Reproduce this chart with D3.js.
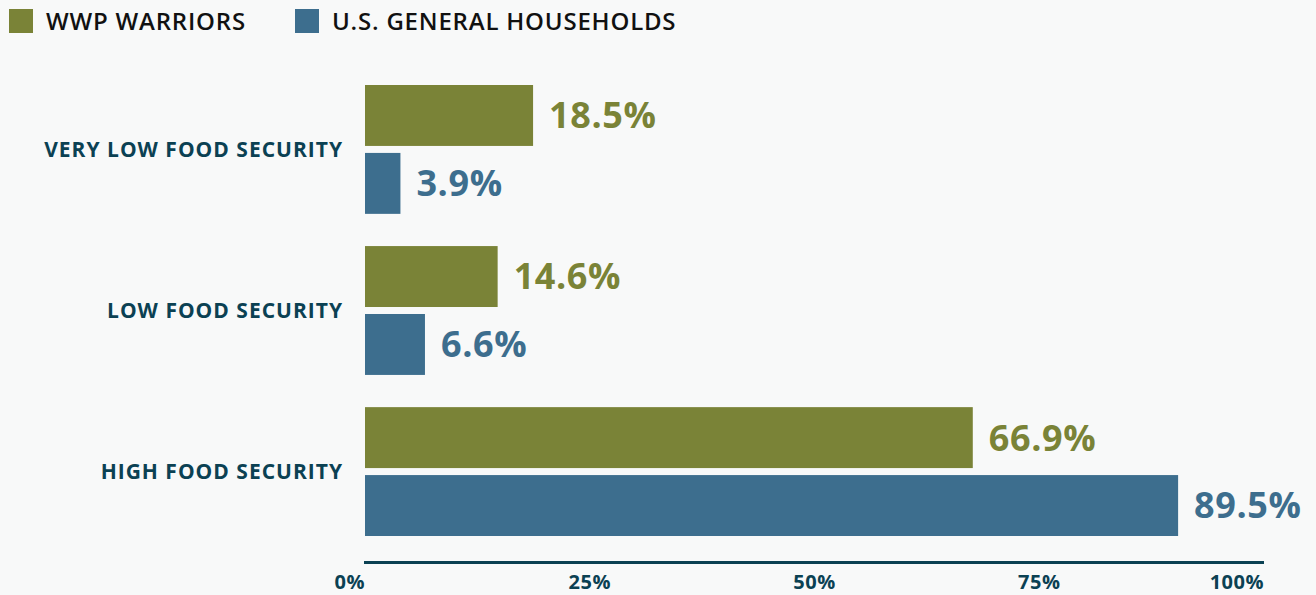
<!DOCTYPE html>
<html>
<head>
<meta charset="utf-8">
<script src="https://cdn.jsdelivr.net/npm/d3@7"></script>
<style>
  html, body { margin: 0; padding: 0; background: #f8f9f9; }
  svg { display: block; }
  text { font-family: "Open Sans", "DejaVu Sans", sans-serif; }
</style>
</head>
<body>
<svg id="chart" width="1316" height="595"></svg>
<script>
const categories = ["VERY LOW FOOD SECURITY", "LOW FOOD SECURITY", "HIGH FOOD SECURITY"];
const seriesNames = ["WWP WARRIORS", "U.S. GENERAL HOUSEHOLDS"];
const warriors = [18.5, 14.6, 66.9];
const households = [3.9, 6.6, 89.5];
const tickValues = [0, 25, 50, 75, 100];
const tickLabels = ["0%", "25%", "50%", "75%", "100%"];

const colors = ["#7a8337", "#3d6e8e"];
const dark = "#0b4153";

const svg = d3.select("#chart");
const W = 1316, H = 595;
svg.append("rect").attr("width", W).attr("height", H).attr("fill", "#f8f9f9");

const left = 365, axisRight = 1264;
const x = d3.scaleLinear().domain([0, 100]).range([left, left + 908.5]);
const xAxisScale = d3.scaleLinear().domain([0, 100]).range([left, axisRight]);

const y = d3.scaleBand().domain(categories).range([85, 536]).paddingInner(0.2).paddingOuter(0);
const ySub = d3.scaleBand().domain(seriesNames).range([0, y.bandwidth()]).paddingInner(7 / 68);

const rows = categories.map((c, i) => ({ cat: c, vals: [warriors[i], households[i]] }));

// Legend
const legend = svg.append("g");
const legendX = [9, 295];
seriesNames.forEach((s, i) => {
  legend.append("rect").attr("x", legendX[i]).attr("y", 9).attr("width", 24).attr("height", 24).attr("fill", colors[i]);
  legend.append("text").attr("x", legendX[i] + 37).attr("y", 30)
    .attr("font-size", 24).attr("font-weight", 600).attr("fill", "#111")
    .attr("letter-spacing", 0.8)
    .text(s);
});

// Bars
const groups = svg.selectAll("g.grp").data(rows).join("g").attr("class", "grp")
  .attr("transform", d => `translate(0,${y(d.cat)})`);

groups.selectAll("rect").data(d => d.vals.map((v, j) => ({ v, s: seriesNames[j], j })))
  .join("rect")
  .attr("x", x(0))
  .attr("y", d => ySub(d.s))
  .attr("width", d => x(d.v) - x(0))
  .attr("height", ySub.bandwidth())
  .attr("fill", d => colors[d.j]);

groups.selectAll("text.val").data(d => d.vals.map((v, j) => ({ v, s: seriesNames[j], j })))
  .join("text").attr("class", "val")
  .attr("x", d => x(d.v) + 16)
  .attr("y", d => ySub(d.s) + ySub.bandwidth() / 2)
  .attr("dy", "0.36em")
  .attr("font-size", 36).attr("font-weight", 700)
  .attr("letter-spacing", 0.6)
  .attr("fill", d => colors[d.j])
  .text(d => d.v.toFixed(1) + "%");

// Category labels
svg.selectAll("text.cat").data(categories).join("text").attr("class", "cat")
  .attr("x", 343)
  .attr("y", d => y(d) + y.bandwidth() / 2)
  .attr("dy", "0.36em")
  .attr("text-anchor", "end")
  .attr("font-size", 21).attr("font-weight", 700)
  .attr("letter-spacing", 1)
  .attr("fill", dark)
  .text(d => d);

// Axis
const axisG = svg.append("g").attr("transform", "translate(0,562.5)");
axisG.append("line").attr("x1", xAxisScale(0) - 1).attr("x2", xAxisScale(100))
  .attr("stroke", dark).attr("stroke-width", 3);
axisG.selectAll("text").data(tickValues).join("text")
  .attr("x", d => xAxisScale(d))
  .attr("y", 26)
  .attr("text-anchor", (d, i) => (i === 0 || i === tickValues.length - 1) ? "end" : "middle")
  .attr("font-size", 20).attr("font-weight", 700)
  .attr("letter-spacing", 0.5)
  .attr("fill", dark)
  .text((d, i) => tickLabels[i]);
</script>
</body>
</html>
